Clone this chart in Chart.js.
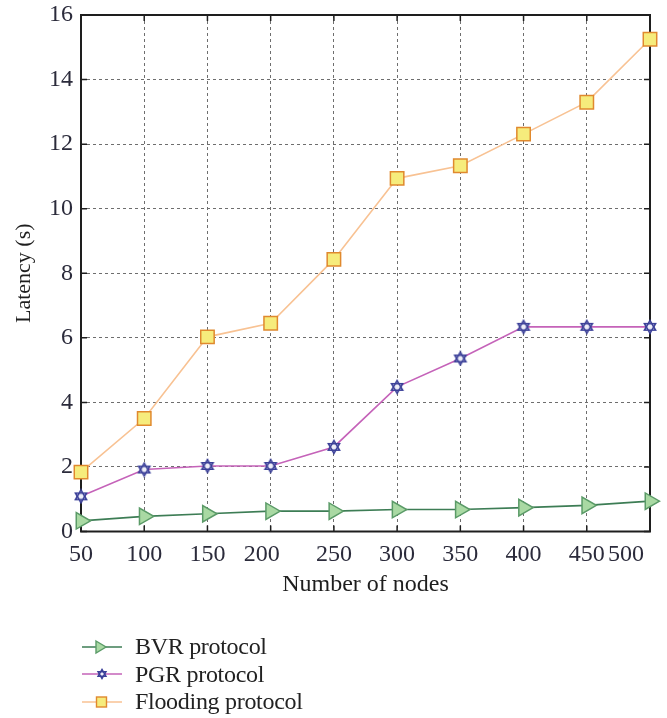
<!DOCTYPE html>
<html>
<head>
<meta charset="utf-8">
<script src="https://cdn.jsdelivr.net/npm/chart.js@4.4.1/dist/chart.umd.min.js"></script>
<style>
  html, body { margin: 0; padding: 0; background: #fff; }
  #wrap { position: relative; width: 667px; height: 718px; }
  #box { position: absolute; left: 0; top: 0; width: 667px; height: 600px; }
  #legend { position: absolute; left: 82px; top: 633px; font: 24px "Liberation Serif", serif; color: #222; letter-spacing: -0.3px; }
  .row { display: flex; align-items: center; height: 27.5px; white-space: nowrap; }
  .row canvas { margin-right: 13px; }
</style>
</head>
<body>
<div id="wrap">
  <div id="box"><canvas id="chart"></canvas></div>
  <div id="legend"></div>
</div>
<script>
// Number of nodes (x categories)
const nodeCounts = ['50', '100', '150', '200', '250', '300', '350', '400', '450', '500'];

// Latency in seconds per protocol
const bvrLatency      = [0.33, 0.47, 0.55, 0.63, 0.63, 0.68, 0.68, 0.74, 0.81, 0.94];
const pgrLatency      = [1.09, 1.92, 2.03, 2.03, 2.62, 4.48, 5.36, 6.34, 6.34, 6.34];
const floodingLatency = [1.84, 3.50, 6.03, 6.45, 8.43, 10.94, 11.33, 12.31, 13.30, 15.25];

// Y axis range
const yMin = 0, yMax = 16, yStep = 2;

const textColor = '#2b2b3b';
const serif = '"Liberation Serif", "DejaVu Serif", serif';

// Six-pointed star marker
function hexagram(size, stroke, fill, lw) {
  const c = document.createElement('canvas');
  c.width = c.height = size;
  const g = c.getContext('2d');
  const cx = size / 2, cy = size / 2, r = size / 2 - lw;
  const tri = rot => {
    g.beginPath();
    for (let k = 0; k < 3; k++) {
      const a = rot + k * 2 * Math.PI / 3;
      const x = cx + r * Math.sin(a), y = cy - r * Math.cos(a);
      if (k) g.lineTo(x, y); else g.moveTo(x, y);
    }
    g.closePath();
  };
  g.fillStyle = fill;
  tri(0); g.fill(); tri(Math.PI); g.fill();
  g.strokeStyle = stroke; g.lineWidth = lw;
  tri(0); g.stroke(); tri(Math.PI); g.stroke();
  return c;
}

const series = [
  { label: 'BVR protocol', data: bvrLatency, line: '#3d7d55', fill: '#a9d9a3', edge: '#5b9b68', style: 'triangle', rot: 90, r: 9.5 },
  { label: 'PGR protocol', data: pgrLatency, line: '#c563b9', fill: '#eeeef8', edge: '#3a3f98', style: 'hexagram', rot: 0, r: 8 },
  { label: 'Flooding protocol', data: floodingLatency, line: '#f8c293', fill: '#f6ec7c', edge: '#e0892e', style: 'rect', rot: 0, r: 9.5 }
];

const starMarker = hexagram(16, '#3a3f98', '#eeeef8', 1.6);

const datasets = series.map(s => ({
  label: s.label,
  data: s.data,
  borderColor: s.line,
  borderWidth: 1.6,
  tension: 0,
  pointStyle: s.style === 'hexagram' ? starMarker : s.style,
  rotation: s.rot,
  pointRadius: s.r,
  pointHoverRadius: s.r,
  pointBackgroundColor: s.fill,
  pointBorderColor: s.edge,
  pointBorderWidth: 1.5
}));

// The "200" and "500" labels sit a little left of their grid lines
const labelShift = { '200': 3, '500': 8 };

// Plot frame with inward tick marks on all four sides
const framePlugin = {
  id: 'frame',
  beforeDatasetsDraw(chart) {
    const { ctx, chartArea: a, scales: { x, y } } = chart;
    ctx.save();
    ctx.strokeStyle = '#1e1e1e';
    ctx.lineWidth = 1.5;
    ctx.beginPath();
    x.ticks.forEach((t, i) => {
      const px = x.getPixelForTick(i);
      ctx.moveTo(px, a.top); ctx.lineTo(px, a.top + 6);
      ctx.moveTo(px, a.bottom); ctx.lineTo(px, a.bottom - 6);
    });
    y.ticks.forEach((t, i) => {
      const py = y.getPixelForTick(i);
      ctx.moveTo(a.left, py); ctx.lineTo(a.left + 6, py);
      ctx.moveTo(a.right, py); ctx.lineTo(a.right - 6, py);
    });
    ctx.stroke();
    ctx.lineWidth = 2;
    ctx.strokeRect(a.left, a.top, a.right - a.left, a.bottom - a.top);
    ctx.restore();
  }
};

new Chart(document.getElementById('chart'), {
  type: 'line',
  data: { labels: nodeCounts, datasets },
  options: {
    responsive: true,
    maintainAspectRatio: false,
    animation: false,
    layout: { padding: { top: 15, right: 17, left: 0, bottom: 0 } },
    plugins: { legend: { display: false }, tooltip: { enabled: false } },
    scales: {
      x: {
        type: 'category',
        offset: false,
        grid: { color: '#6e6e6e', lineWidth: 1, drawTicks: false },
        border: { display: false, dash: [3, 3] },
        ticks: {
          autoSkip: false, maxRotation: 0, padding: 9, color: textColor,
          font: { family: serif, size: 24 },
          callback: (v, i) => nodeCounts[i] + ' '.repeat(labelShift[nodeCounts[i]] || 0)
        },
        title: {
          display: true, text: 'Number of nodes', color: '#1e1e1e',
          font: { family: serif, size: 24 }, padding: { top: 6, bottom: 1 }
        },
        afterFit(scale) { scale.height = 68.5; scale.paddingLeft = 0; scale.paddingRight = 0; }
      },
      y: {
        min: yMin, max: yMax,
        grid: { color: '#6e6e6e', lineWidth: 1, drawTicks: false },
        border: { display: false, dash: [3, 3] },
        ticks: { stepSize: yStep, padding: 8, color: textColor, font: { family: serif, size: 24 } },
        title: {
          display: true, text: 'Latency (s)', color: '#1e1e1e',
          font: { family: serif, size: 22 }, padding: { top: 11, bottom: 0 }
        },
        afterFit(scale) { scale.width = 81; scale.paddingTop = 0; scale.paddingBottom = 0; }
      }
    }
  },
  plugins: [framePlugin]
});

// Legend: line sample with marker, then the series name
const legend = document.getElementById('legend');
series.forEach(s => {
  const row = document.createElement('div');
  row.className = 'row';
  const ic = document.createElement('canvas');
  ic.width = 40; ic.height = 22;
  const g = ic.getContext('2d');
  g.strokeStyle = s.line; g.lineWidth = 1.6;
  g.beginPath(); g.moveTo(0, 11); g.lineTo(40, 11); g.stroke();
  g.fillStyle = s.fill; g.strokeStyle = s.edge; g.lineWidth = 1.4;
  if (s.style === 'triangle') {
    g.beginPath(); g.moveTo(14, 5); g.lineTo(24, 11); g.lineTo(14, 17); g.closePath(); g.fill(); g.stroke();
  } else if (s.style === 'rect') {
    g.fillRect(14.5, 6, 10, 10); g.strokeRect(14.5, 6, 10, 10);
  } else {
    g.drawImage(hexagram(12, s.edge, s.fill, 1.4), 14, 5);
  }
  const tx = document.createElement('span');
  tx.textContent = s.label;
  row.appendChild(ic); row.appendChild(tx);
  legend.appendChild(row);
});
</script>
</body>
</html>
